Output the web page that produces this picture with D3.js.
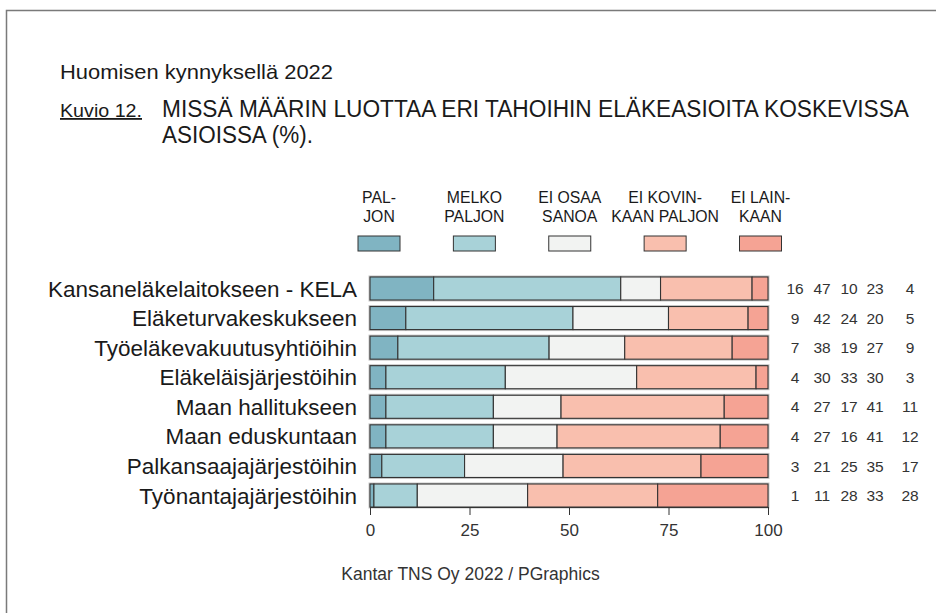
<!DOCTYPE html>
<html>
<head>
<meta charset="utf-8">
<script src="https://cdn.jsdelivr.net/npm/d3@7"></script>
<style>
  body { margin: 0; background: #fff; }
  svg { display: block; }
  .sans { font-family: "Liberation Sans", Arial, Helvetica, sans-serif; }
</style>
</head>
<body>
<div id="chart"></div>
<script>
// data
const categories = [
  "Kansaneläkelaitokseen - KELA",
  "Eläketurvakeskukseen",
  "Työeläkevakuutusyhtiöihin",
  "Eläkeläisjärjestöihin",
  "Maan hallitukseen",
  "Maan eduskuntaan",
  "Palkansaajajärjestöihin",
  "Työnantajajärjestöihin"
];
const seriesNames = ["PALJON", "MELKO PALJON", "EI OSAA SANOA", "EI KOVINKAAN PALJON", "EI LAINKAAN"];
const legendLines = [["PAL-", "JON"], ["MELKO", "PALJON"], ["EI OSAA", "SANOA"], ["EI KOVIN-", "KAAN PALJON"], ["EI LAIN-", "KAAN"]];
const paljon      = [16, 9, 7, 4, 4, 4, 3, 1];
const melkoPaljon = [47, 42, 38, 30, 27, 27, 21, 11];
const eiOsaa      = [10, 24, 19, 33, 17, 16, 25, 28];
const eiKovin     = [23, 20, 27, 30, 41, 41, 35, 33];
const eiLainkaan  = [4, 5, 9, 3, 11, 12, 17, 28];
const xTicks = [0, 25, 50, 75, 100];
const colors = ["#80b4c2", "#a8d2d8", "#f2f3f2", "#f9bfae", "#f5a394"];

const W = 936, H = 613;
const svg = d3.select("#chart").append("svg").attr("width", W).attr("height", H);

// frame
svg.append("path").attr("d", "M6.5,613 V10.5 H936").attr("fill", "none").attr("stroke", "#7a7a7a").attr("stroke-width", 1.5);

// titles (narrow look -> squeeze with textLength)
function title(txt, xx, yy, size, len) {
  return svg.append("text").attr("class", "sans").attr("x", xx).attr("y", yy)
    .attr("font-size", size).attr("fill", "#1a1a1a")
    .attr("textLength", len).attr("lengthAdjust", "spacingAndGlyphs").text(txt);
}
title("Huomisen kynnyksellä 2022", 60, 79, 21, 273);
title("Kuvio 12.", 60, 117, 18, 82).attr("text-decoration", "underline");
title("MISSÄ MÄÄRIN LUOTTAA ERI TAHOIHIN ELÄKEASIOITA KOSKEVISSA", 162, 117, 23, 747);
title("ASIOISSA (%).", 162, 143, 23, 151);

// scales
const x = d3.scaleLinear().domain([0, 100]).range([370, 768]);
const y = d3.scaleBand().domain(categories).range([273.7, 510.3]).paddingInner(0.22).paddingOuter(0.11);

const series = [paljon, melkoPaljon, eiOsaa, eiKovin, eiLainkaan];
const rows = categories.map((c, i) => {
  const vals = series.map(s => s[i]);
  const tot = d3.sum(vals);
  let acc = 0;
  return {
    cat: c, vals: vals,
    segs: vals.map((v, k) => { const s = { k: k, x0: acc / tot * 100, x1: (acc + v) / tot * 100 }; acc += v; return s; })
  };
});

// legend
const legX = d3.scalePoint().domain(seriesNames).range([379, 760.5]);
const leg = svg.append("g").selectAll("g").data(seriesNames).enter().append("g")
  .attr("transform", d => "translate(" + legX(d) + ",0)");
leg.append("g").attr("transform", "scale(0.93,1)")
  .selectAll("text").data((d, i) => legendLines[i]).enter().append("text")
  .attr("class", "sans").attr("text-anchor", "middle").attr("font-size", 17).attr("fill", "#1a1a1a")
  .attr("x", 0).attr("y", (d, j) => 203 + j * 19.5).text(d => d);
leg.append("rect").attr("x", -21).attr("y", 236).attr("width", 42).attr("height", 15)
  .attr("fill", (d, i) => colors[i]).attr("stroke", "#333").attr("stroke-width", 1);

// bars
const rowG = svg.append("g").selectAll("g").data(rows).enter().append("g");
rowG.append("rect")
  .attr("x", x(0)).attr("y", d => y(d.cat)).attr("width", x(100) - x(0)).attr("height", y.bandwidth())
  .attr("fill", "none").attr("stroke", "#c8c8c8").attr("stroke-width", 3);
rowG.selectAll("rect.seg").data(d => d.segs.map(s => Object.assign({ cat: d.cat }, s))).enter().append("rect")
  .attr("class", "seg")
  .attr("x", d => x(d.x0)).attr("y", d => y(d.cat))
  .attr("width", d => x(d.x1) - x(d.x0)).attr("height", y.bandwidth())
  .attr("fill", d => colors[d.k]).attr("stroke", "#333").attr("stroke-width", 1.1);

// category labels
rowG.append("text").attr("class", "sans").attr("x", 357).attr("y", d => y(d.cat) + y.bandwidth() / 2)
  .attr("dy", "0.36em").attr("text-anchor", "end").attr("font-size", 22.5).attr("fill", "#1a1a1a").text(d => d.cat);

// numbers
const numX = [795, 822, 849, 875, 910];
rowG.selectAll("text.num").data(d => d.vals.map((v, k) => ({ v: v, k: k, cat: d.cat }))).enter().append("text")
  .attr("class", "sans num").attr("x", d => numX[d.k]).attr("y", d => y(d.cat) + y.bandwidth() / 2)
  .attr("dy", "0.36em").attr("text-anchor", "middle").attr("font-size", 15.5).attr("fill", "#333").text(d => d.v);

// axis
const axis = svg.append("g").attr("transform", "translate(0,507)")
  .call(d3.axisBottom(x).tickValues(xTicks).tickSize(8).tickPadding(9).tickSizeOuter(0));
axis.select(".domain").attr("stroke", "#333");
axis.selectAll(".tick line").attr("stroke", "#333");
axis.selectAll(".tick text").attr("class", "sans").attr("font-size", 17).attr("fill", "#333");

// footer
svg.append("text").attr("class", "sans").attr("x", 470.5).attr("y", 580).attr("text-anchor", "middle")
  .attr("font-size", 17.5).attr("fill", "#333").text("Kantar TNS Oy 2022 / PGraphics");
</script>
</body>
</html>
